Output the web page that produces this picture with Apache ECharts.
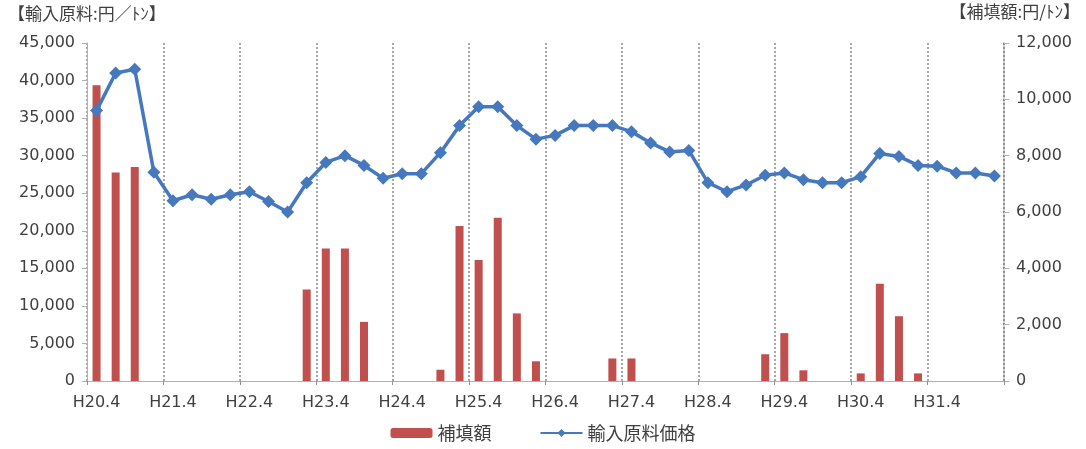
<!DOCTYPE html>
<html>
<head>
<meta charset="utf-8">
<script src="https://cdn.jsdelivr.net/npm/echarts@6/dist/echarts.min.js"></script>
<style>
html,body{margin:0;padding:0;background:#fff;}
#chart{width:1086px;height:449px;}
</style>
</head>
<body>
<div id="chart"></div>
<script>
const categories = [
  'H20.4','H20.7','H20.10','H21.1',
  'H21.4','H21.7','H21.10','H22.1',
  'H22.4','H22.7','H22.10','H23.1',
  'H23.4','H23.7','H23.10','H24.1',
  'H24.4','H24.7','H24.10','H25.1',
  'H25.4','H25.7','H25.10','H26.1',
  'H26.4','H26.7','H26.10','H27.1',
  'H27.4','H27.7','H27.10','H28.1',
  'H28.4','H28.7','H28.10','H29.1',
  'H29.4','H29.7','H29.10','H30.1',
  'H30.4','H30.7','H30.10','H31.1',
  'H31.4','H31.7','H31.10','H32.1'
];
// 輸入原料価格 (円/トン, left axis)
const importPrice = [
  36000,41000,41500,27800,
  24000,24800,24200,24800,
  25200,23900,22500,26400,
  29100,30000,28700,27000,
  27600,27600,30400,34000,
  36500,36500,34000,32200,
  32700,34000,34000,34000,
  33200,31700,30500,30700,
  26400,25200,26100,27400,
  27700,26800,26400,26400,
  27200,30300,29900,28700,
  28600,27700,27700,27300
];
// 補填額 (円/トン, right axis)
const subsidy = [
  10500,7400,7600,0,
  0,0,0,0,
  0,0,0,3250,
  4700,4700,2100,0,
  0,0,400,5500,
  4300,5800,2400,700,
  0,0,0,800,
  800,0,0,0,
  0,0,0,950,
  1700,380,0,0,
  270,3450,2300,270,
  0,0,0,0
];
const leftTitle = '【輸入原料:円／ﾄﾝ】';
const rightTitle = '【補填額:円/ﾄﾝ】';
const seriesNames = ['補填額', '輸入原料価格'];

const chart = echarts.init(document.getElementById('chart'));
const numFmt = v => v.toLocaleString('en-US');
const axisText = {color:'#404040', fontFamily:'DejaVu Sans', fontSize:16};
chart.setOption({
  animation:false,
  backgroundColor:'#fff',
  grid:{left:87, right:82, top:43, bottom:68, containLabel:false},
  graphic:[
    {type:'text', left:8, top:5, style:{text:leftTitle, fill:'#404040', font:'17px "Noto Sans CJK JP"'}},
    {type:'text', right:6, top:3, style:{text:rightTitle, fill:'#404040', font:'17px "Noto Sans CJK JP"'}}
  ],
  legend:{
    bottom:2, left:'center',
    itemWidth:42, itemHeight:10, itemGap:48,
    textStyle:{color:'#404040', fontFamily:'Noto Sans CJK JP', fontSize:18},
    data:seriesNames
  },
  xAxis:{
    type:'category', data:categories, boundaryGap:true,
    axisLine:{lineStyle:{color:'#b0b0b0', width:1}},
    axisTick:{show:true, interval:3, length:4, lineStyle:{color:'#909090'}},
    axisLabel:Object.assign({interval:3, margin:14}, axisText),
    splitLine:{show:true, interval:3, lineStyle:{color:'#8a8a8a', type:[2,2], width:1.5}}
  },
  yAxis:[
    {type:'value', min:0, max:45000, interval:5000,
     axisLine:{show:true, lineStyle:{color:'#b0b0b0'}},
     axisTick:{show:true, length:5, lineStyle:{color:'#b0b0b0'}},
     axisLabel:Object.assign({margin:12, formatter:numFmt}, axisText),
     splitLine:{show:false}},
    {type:'value', min:0, max:12000, interval:2000, position:'right',
     axisLine:{show:true, lineStyle:{color:'#8a8a8a', type:[2,2], width:1.5}},
     axisTick:{show:true, length:5, lineStyle:{color:'#b0b0b0'}},
     axisLabel:Object.assign({margin:12, formatter:numFmt}, axisText),
     splitLine:{show:false}}
  ],
  series:[
    {name:seriesNames[0], type:'bar', yAxisIndex:1, data:subsidy,
     barWidth:8, itemStyle:{color:'#C0504D'}},
    {name:seriesNames[1], type:'line', yAxisIndex:0, data:importPrice,
     symbol:'diamond', symbolSize:13, showAllSymbol:true,
     lineStyle:{color:'#4678BE', width:3.5},
     itemStyle:{color:'#4678BE'}, z:5}
  ]
});
</script>
</body>
</html>
